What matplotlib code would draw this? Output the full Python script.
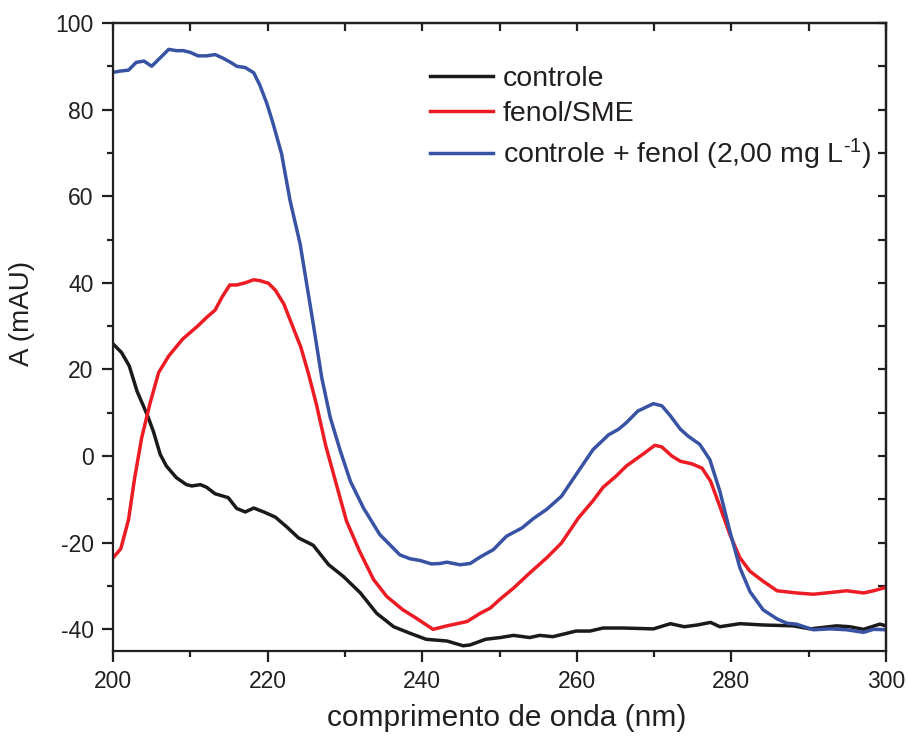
import matplotlib
matplotlib.use("Agg")
import matplotlib.pyplot as plt
from matplotlib.ticker import MultipleLocator

plt.rcParams['font.family'] = ['Liberation Sans', 'DejaVu Sans']
plt.rcParams['mathtext.fontset'] = 'custom'
plt.rcParams['mathtext.rm'] = 'Liberation Sans'
plt.rcParams['mathtext.it'] = 'Liberation Sans:italic'
plt.rcParams['axes.unicode_minus'] = False

# ---- data ----
wl_controle = [200, 201.1, 202.1, 203.1, 204.4, 205.2, 206.1, 206.9, 208.2, 209.5, 210.2,
               211.3, 212.1, 213.2, 214.9, 216, 217.1, 218.2, 219.5, 221, 222.5, 224,
               225.9, 227.9, 229.8, 232, 234.1, 236.3, 238.4, 240.5, 243.2, 245.3, 246.2,
               248.2, 250.1, 251.8, 253.9, 255.2, 256.9, 259.9, 261.7, 263.4, 266, 269.9,
               272.1, 273.9, 275.6, 277.3, 278.5, 281.1, 284.1, 288, 290.2, 293.6, 295.3,
               297.1, 299.2, 300]
a_controle = [25.9, 23.9, 20.8, 15.0, 9.6, 5.8, 0.4, -2.3, -5.0, -6.6, -6.9,
              -6.6, -7.2, -8.7, -9.6, -12.1, -12.9, -12.0, -12.9, -14.1, -16.4, -18.9,
              -20.6, -25.1, -27.8, -31.6, -36.3, -39.4, -40.9, -42.3, -42.7, -43.8, -43.6,
              -42.3, -41.9, -41.4, -41.9, -41.4, -41.7, -40.4, -40.4, -39.7, -39.7, -39.9,
              -38.7, -39.4, -39.0, -38.4, -39.4, -38.7, -39.0, -39.2, -39.9, -39.2, -39.4,
              -40.0, -38.8, -39.2]

wl_fenol = [200, 201, 202, 202.8, 203.7, 204.8, 205.9, 207.2, 209, 211, 212.1, 213.2,
            214.1, 215.1, 216, 217.1, 218.2, 219, 220.1, 221, 222.1, 223.2, 224.3,
            225.3, 226.3, 227.5, 228.9, 230.2, 231.9, 233.7, 235.4, 237.5, 239.2, 241.4,
            243.2, 245.8, 247.5, 248.8, 250.1, 251.8, 253.9, 256.1, 258, 260.2, 262.1,
            263.4, 265.1, 266.4, 268.6, 270.1, 271, 272.3, 273.4, 274.9, 276.2, 277.3,
            278.5, 279.8, 281.1, 282.4, 284.1, 285.9, 288.4, 290.6, 292.8, 294.9, 297.1,
            298.4, 300]
a_fenol = [-23.5, -21.4, -14.7, -5.0, 4.2, 12.3, 19.3, 23.1, 27.0, 30.1, 32.0, 33.7,
           36.7, 39.5, 39.5, 40.0, 40.7, 40.5, 39.9, 38.3, 35.1, 30.1, 25.1,
           18.9, 12.0, 2.5, -6.6, -15.0, -22.0, -28.5, -32.4, -35.5, -37.4, -40.0,
           -39.2, -38.2, -36.3, -35.1, -33.0, -30.5, -27.0, -23.5, -20.1, -14.3, -10.3,
           -7.2, -4.6, -2.3, 0.5, 2.5, 2.1, 0.0, -1.2, -1.8, -2.8, -5.8,
           -11.6, -18.1, -23.5, -26.6, -28.9, -31.1, -31.6, -31.9, -31.5, -31.1, -31.6,
           -31.1, -30.3]

wl_mix = [200, 201, 202, 203, 204, 205, 207.2, 208.2, 209.1, 210, 211, 212.1, 213.2,
          214.3, 215.4, 216, 217.1, 218.2, 219, 219.9, 220.7, 221.8, 222.9, 224.2,
          225.9, 227, 228.1, 229.4, 230.7, 232.4, 234.5, 237.1, 238.4, 239.7, 241.2,
          242.3, 243.2, 244.9, 246.2, 247.5, 249.2, 250.9, 252.9, 254.4, 256.1, 258,
          260.2, 262.1, 264.1, 265.4, 266.4, 267.9, 269.9, 271, 272.1, 273.4, 274.4,
          275.9, 277.2, 278.5, 279.8, 281.1, 282.4, 284.1, 285.9, 287.2, 288.4, 290.6,
          292.8, 294.9, 297.1, 298.4, 300]
a_mix = [88.6, 88.9, 89.1, 90.9, 91.2, 90.0, 93.9, 93.6, 93.6, 93.2, 92.4, 92.4, 92.7,
         91.8, 90.7, 90.0, 89.7, 88.5, 85.6, 81.4, 76.8, 69.8, 59.0, 49.0,
         30.5, 18.1, 8.9, 1.2, -5.8, -12.0, -18.1, -22.8, -23.7, -24.1, -24.9,
         -24.8, -24.5, -25.1, -24.8, -23.3, -21.6, -18.5, -16.6, -14.4, -12.3, -9.3,
         -3.5, 1.5, 4.9, 6.2, 7.7, 10.4, 12.1, 11.6, 9.3, 6.2, 4.6,
         2.7, -0.8, -8.1, -17.4, -25.8, -31.3, -35.5, -37.6, -38.6, -38.8, -40.1,
         -39.9, -40.1, -40.7, -40.0, -40.1]

labels = ['controle', 'fenol/SME', r'controle + fenol (2,00 mg L$^{\text{-1}}$)']
colors = ['#1a1a1a', '#ed1c24', '#3953a4']
xticks = [200, 220, 240, 260, 280, 300]
yticks = [-40, -20, 0, 20, 40, 60, 80, 100]

fig = plt.figure(figsize=(9.08, 7.40), dpi=100)
ax = fig.add_axes([0.1245, 0.1203, 0.8513, 0.8487])

ax.plot(wl_controle, a_controle, color=colors[0], lw=2.5, label=labels[0])
ax.plot(wl_fenol, a_fenol, color=colors[1], lw=2.5, label=labels[1])
ax.plot(wl_mix, a_mix, color=colors[2], lw=2.5, label=labels[2])

ax.set_xlim(200, 300)
ax.set_ylim(-45, 100)
ax.set_xticks(xticks)
ax.set_yticks(yticks)
ax.xaxis.set_minor_locator(MultipleLocator(10))
ax.yaxis.set_minor_locator(MultipleLocator(10))
ax.tick_params(which='major', direction='out', length=8, width=1.6, labelsize=16.5,
               pad=6, color='#231f20', labelcolor='#231f20')
ax.tick_params(which='minor', direction='out', length=4.5, width=1.6, color='#231f20')
for s in ax.spines.values():
    s.set_linewidth(1.6)
    s.set_color('#231f20')

# mirrored top/right ticks pointing inward, no labels
top = ax.secondary_xaxis('top')
top.set_xticks(xticks)
top.xaxis.set_minor_locator(MultipleLocator(10))
top.tick_params(which='both', direction='in', length=6, width=1.6, labeltop=False,
                color='#231f20')
top.spines['top'].set_linewidth(1.6)
right = ax.secondary_yaxis('right')
right.set_yticks(yticks)
right.yaxis.set_minor_locator(MultipleLocator(10))
right.tick_params(which='both', direction='in', length=6, width=1.6, labelright=False,
                  color='#231f20')
right.spines['right'].set_linewidth(1.6)

ax.set_xlabel('comprimento de onda (nm)', fontsize=21.5, color='#231f20')
ax.set_ylabel('A (mAU)', fontsize=20, color='#231f20')
ax.xaxis.set_label_coords(0.509, -0.085)
ax.yaxis.set_label_coords(-0.101, 0.537)

leg = ax.legend(loc='upper left', bbox_to_anchor=(0.41, 0.932), frameon=False,
                fontsize=20.5, handlelength=2.2, handletextpad=0.35, labelspacing=0.33,
                borderaxespad=0, borderpad=0)
for t in leg.get_texts():
    t.set_color('#231f20')

fig.savefig('out.png', dpi=100)
